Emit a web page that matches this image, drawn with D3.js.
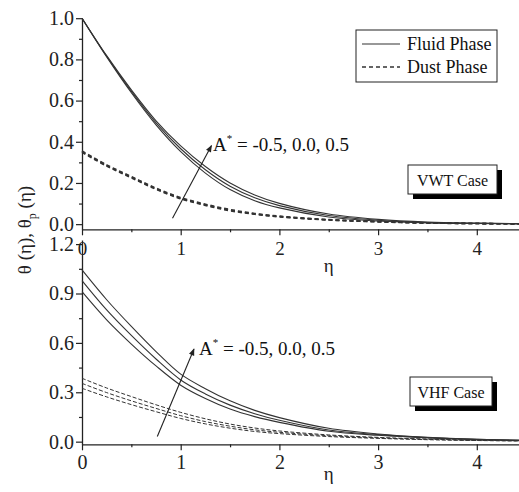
<!DOCTYPE html>
<meta charset="utf-8">
<style>
body {
  margin: 0;
  background: #fff;
}
svg text {
  font-family: "Liberation Serif", "Times New Roman", Times, "DejaVu Serif", serif;
}
.axis .domain {
  fill: none;
  stroke: #222;
  stroke-width: 1.3;
}
.axis line {
  stroke: #222;
  stroke-width: 1.2;
}
.axis text {
  font-size: 20px;
  fill: #222;
}
</style>
<body>
<script src="https://d3js.org/d3.v7.min.js"></script>
<script>

// eta grid the curves were read on
var eta = [0, 0.25, 0.5, 0.75, 1.0, 1.25, 1.5, 1.75, 2.0, 2.5, 3.0, 3.5, 4.0, 4.5];

// VWT case, A* = -0.5, 0.0, 0.5
var vwtFluidA1 = [1.0, 0.812, 0.638, 0.482, 0.352, 0.248, 0.168, 0.114, 0.079, 0.035, 0.015, 0.006, 0.003, 0.001];
var vwtFluidA2 = [1.0, 0.815, 0.645, 0.492, 0.366, 0.264, 0.184, 0.128, 0.090, 0.042, 0.019, 0.008, 0.004, 0.002];
var vwtFluidA3 = [1.0, 0.818, 0.652, 0.502, 0.380, 0.280, 0.200, 0.142, 0.101, 0.049, 0.023, 0.010, 0.005, 0.002];
var vwtDustA1 = [0.349, 0.282, 0.225, 0.169, 0.123, 0.091, 0.065, 0.048, 0.035, 0.020, 0.011, 0.005, 0.003, 0.001];
var vwtDustA2 = [0.352, 0.285, 0.228, 0.172, 0.126, 0.094, 0.068, 0.050, 0.037, 0.021, 0.012, 0.006, 0.003, 0.001];
var vwtDustA3 = [0.355, 0.288, 0.231, 0.175, 0.129, 0.097, 0.071, 0.052, 0.039, 0.022, 0.013, 0.006, 0.003, 0.001];

// VHF case, A* = -0.5, 0.0, 0.5
var vhfFluidA1 = [0.911, 0.740, 0.593, 0.460, 0.343, 0.262, 0.198, 0.152, 0.117, 0.063, 0.039, 0.023, 0.013, 0.007];
var vhfFluidA2 = [0.978, 0.800, 0.645, 0.502, 0.375, 0.290, 0.222, 0.170, 0.130, 0.071, 0.043, 0.025, 0.014, 0.008];
var vhfFluidA3 = [1.043, 0.862, 0.700, 0.547, 0.410, 0.322, 0.248, 0.190, 0.146, 0.081, 0.047, 0.027, 0.015, 0.008];
var vhfDustA1 = [0.324, 0.272, 0.225, 0.182, 0.141, 0.108, 0.082, 0.062, 0.049, 0.031, 0.020, 0.012, 0.007, 0.004];
var vhfDustA2 = [0.354, 0.298, 0.248, 0.202, 0.158, 0.122, 0.094, 0.072, 0.057, 0.036, 0.023, 0.014, 0.008, 0.005];
var vhfDustA3 = [0.385, 0.326, 0.274, 0.224, 0.178, 0.139, 0.107, 0.083, 0.065, 0.041, 0.026, 0.016, 0.009, 0.005];

var aStarValues = ["-0.5", "0.0", "0.5"];
var xTicks = [0, 1, 2, 3, 4];
var xMinorTicks = [0.5, 1.5, 2.5, 3.5, 4.5];
var topYTicks = [0, 0.2, 0.4, 0.6, 0.8, 1.0];
var topYMinor = [0.1, 0.3, 0.5, 0.7, 0.9];
var botYTicks = [0, 0.3, 0.6, 0.9, 1.2];
var botYMinor = [0.15, 0.45, 0.75, 1.05];
var legendLabels = ["Fluid Phase", "Dust Phase"];

var W = 519, H = 492;

var svg = d3.select("body").append("svg")
  .attr("width", W)
  .attr("height", H);

svg.append("defs").append("marker")
  .attr("id", "head")
  .attr("viewBox", "0 0 10 10")
  .attr("refX", 9)
  .attr("refY", 5)
  .attr("markerUnits", "userSpaceOnUse")
  .attr("markerWidth", 8)
  .attr("markerHeight", 7)
  .attr("orient", "auto")
  .append("path")
  .attr("d", "M0,1 L10,5 L0,9 Z")
  .attr("fill", "#222");

var x = d3.scaleLinear().domain([0, 5]).range([82, 575.5]);

function toPoints(vals) {
  return eta.map(function(e, i) { return [e, vals[i]]; });
}

function drawPanel(p) {
  var y = p.y;
  var g = svg.append("g");

  // minor ticks first, then major axis on top
  g.append("g")
    .attr("class", "axis minor")
    .attr("transform", "translate(82,0)")
    .call(d3.axisLeft(y).tickValues(p.yMinor).tickSize(3).tickFormat(""))
    .select(".domain").remove();

  g.append("g")
    .attr("class", "axis")
    .attr("transform", "translate(82,0)")
    .call(d3.axisLeft(y).tickValues(p.yTicks).tickSize(6).tickSizeOuter(0)
      .tickPadding(2).tickFormat(d3.format(".1f")));

  g.append("g")
    .attr("class", "axis minor")
    .attr("transform", "translate(0," + p.xAxisY + ")")
    .call(d3.axisBottom(x).tickValues(xMinorTicks).tickSize(3).tickFormat(""))
    .select(".domain").remove();

  var xa = g.append("g")
    .attr("class", "axis")
    .attr("transform", "translate(0," + p.xAxisY + ")")
    .call(d3.axisBottom(x).tickValues(xTicks).tickSize(6).tickSizeOuter(0)
      .tickPadding(p.xPad).tickFormat(d3.format("d")));
  xa.selectAll("text").style("font-size", p.xFont + "px");

  g.append("text")
    .attr("x", x(2.5))
    .attr("y", p.etaY)
    .attr("text-anchor", "middle")
    .style("font-size", "19px")
    .attr("fill", "#222")
    .text("η");

  var line = d3.line()
    .x(function(d) { return x(d[0]); })
    .y(function(d) { return y(d[1]); })
    .curve(d3.curveCatmullRom.alpha(0.5));

  p.fluid.forEach(function(s) {
    g.append("path")
      .attr("d", line(toPoints(s)))
      .attr("fill", "none")
      .attr("stroke", "#333")
      .attr("stroke-width", 1.1);
  });
  p.dust.forEach(function(s) {
    g.append("path")
      .attr("d", line(toPoints(s)))
      .attr("fill", "none")
      .attr("stroke", "#333")
      .attr("stroke-width", p.dustWidth)
      .attr("stroke-dasharray", p.dash);
  });

  // arrow across the A* family
  g.append("line")
    .attr("x1", p.arrow[0]).attr("y1", p.arrow[1])
    .attr("x2", p.arrow[2]).attr("y2", p.arrow[3])
    .attr("stroke", "#222")
    .attr("stroke-width", 1.1)
    .attr("marker-end", "url(#head)");

  var t = g.append("text")
    .attr("x", p.label[0])
    .attr("y", p.label[1])
    .attr("fill", "#111")
    .style("font-size", "19px");
  t.append("tspan").text("A");
  t.append("tspan").attr("dy", -9).style("font-size", "11px").text("*");
  t.append("tspan").attr("dy", 9).text(" = " + aStarValues.join(", "));

  // case box with shadow
  var b = p.box;
  g.append("rect")
    .attr("x", b[0] + 5).attr("y", b[1] + 5)
    .attr("width", b[2]).attr("height", b[3])
    .attr("fill", "#000");
  g.append("rect")
    .attr("x", b[0]).attr("y", b[1])
    .attr("width", b[2]).attr("height", b[3])
    .attr("fill", "#fff")
    .attr("stroke", "#222")
    .attr("stroke-width", 1);
  g.append("text")
    .attr("x", b[0] + b[2] / 2)
    .attr("y", b[1] + b[3] / 2 + 6)
    .attr("text-anchor", "middle")
    .attr("fill", "#111")
    .style("font-size", "16px")
    .text(p.caseName);
}

// top panel: VWT
drawPanel({
  y: d3.scaleLinear().domain([-0.025, 1.0]).range([229.3, 18.2]),
  yTicks: topYTicks, yMinor: topYMinor,
  xAxisY: 229.3, xPad: 6, xFont: 19, etaY: 272,
  fluid: [vwtFluidA1, vwtFluidA2, vwtFluidA3],
  dust: [vwtDustA1, vwtDustA2, vwtDustA3],
  dash: "4,3", dustWidth: 1.6,
  arrow: [172.5, 218.3, 211.5, 145.5],
  label: [213, 151],
  box: [408, 165, 89, 29],
  caseName: "VWT Case"
});

// bottom panel: VHF
drawPanel({
  y: d3.scaleLinear().domain([-0.016, 1.225]).range([444.3, 240]),
  yTicks: botYTicks, yMinor: botYMinor,
  xAxisY: 444.3, xPad: 5, xFont: 20, etaY: 480,
  fluid: [vhfFluidA1, vhfFluidA2, vhfFluidA3],
  dust: [vhfDustA1, vhfDustA2, vhfDustA3],
  dash: "4,2", dustWidth: 1.0,
  arrow: [157.3, 436.5, 194, 349],
  label: [199, 355],
  box: [410, 377, 82, 29],
  caseName: "VHF Case"
});

// shared y label
var yl = svg.append("text")
  .attr("transform", "translate(31,230) rotate(-90)")
  .attr("text-anchor", "middle")
  .attr("fill", "#222")
  .style("font-size", "19px");
yl.append("tspan").text("θ (η), θ");
yl.append("tspan").attr("dy", 5).style("font-size", "12px").text("p");
yl.append("tspan").attr("dy", -5).text(" (η)");

// legend
var lg = svg.append("g");
lg.append("rect")
  .attr("x", 356).attr("y", 30)
  .attr("width", 141).attr("height", 52)
  .attr("fill", "#fff")
  .attr("stroke", "#222")
  .attr("stroke-width", 1);
legendLabels.forEach(function(name, i) {
  var ly = 44 + i * 23;
  lg.append("line")
    .attr("x1", 362).attr("x2", 400)
    .attr("y1", ly).attr("y2", ly)
    .attr("stroke", "#333")
    .attr("stroke-width", i === 0 ? 1.1 : 1.4)
    .attr("stroke-dasharray", i === 0 ? null : "4,3");
  lg.append("text")
    .attr("x", 407)
    .attr("y", ly + 6)
    .attr("fill", "#111")
    .style("font-size", "18px")
    .text(name);
});

</script>
